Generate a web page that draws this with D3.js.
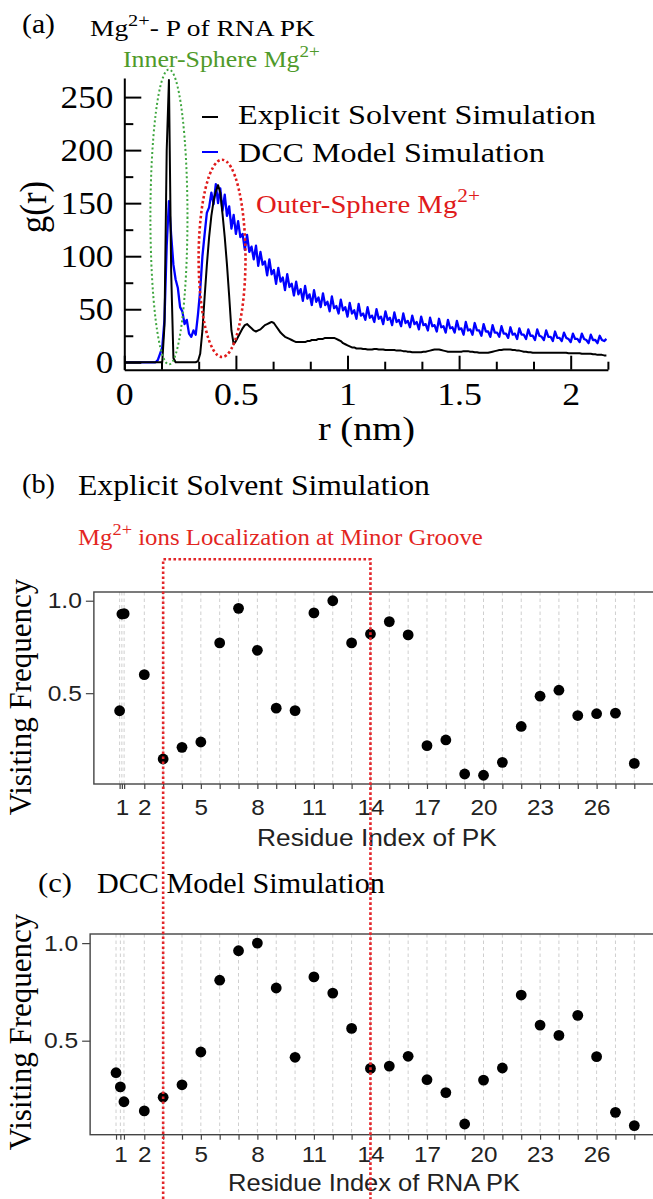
<!DOCTYPE html>
<html>
<head>
<meta charset="utf-8">
<script src="https://cdn.jsdelivr.net/npm/d3@7"></script>
<style>
  html, body { margin: 0; padding: 0; background: #fff; }
  svg { display: block; }
  text { white-space: pre; }
</style>
</head>
<body>
<svg id="chart" width="653" height="1199"></svg>
<script>
// ---------------- DATA ----------------
// Panel (a): radial distribution g(r), Mg2+ - P, sampled every 0.01 nm from r = 0
const rStep = 0.01;
const gExplicit = [
  0,0,0,0,0,0,0,0,0,0,0,0,0,0,0,0,0,
  0,35,200,266,85,4,
  0,0,0,0,0,0,0,0,0,0,
  1,8,30,62,92,118,138,152,161,167,160,140,118,92,62,30,17,
  20,24,28,32,35,36,34,32,30,29,
  30,31,33,35,36,37,38,37,34,31,
  28,26,24,23,22,21,20,19,19,19,
  19,19,20,20,21,21,21,22,22,22,
  23,23,23,23,23,22,21,20,18,17,
  16,15,14,14,13,13,13,12.5,12.5,12,
  12,12,12.5,12.5,12,12,12,11.5,11.5,11.5,
  11.5,11.5,11,11,11,10.5,10.5,10,10,9.5,
  9.5,9.5,9.5,9.5,10,10,10.5,11,11.5,12,
  12,12,11.5,11,10.5,10,10,10,10,10,
  10,10,10.5,10.5,10.5,10,10,9.5,9.5,9,
  9,9,9,9,9.5,10,10.5,11,11.5,11.5,
  12,12,12,12,11.5,11.5,11,11,10.5,10,
  10,9.5,9.5,9,9,9,9,9,9,9,
  9,9,9,9,9,9,9,9,9,8.5,
  8.5,8.5,8.5,8.5,8.5,8,8,8,8,8,
  7.5,7.5,7,7,7,6.5,6.5
];
const gDCC = [
  0,0,0,0,0,0,0,0,0,0,0,0,0,0,0,
  2,8,14,40,110,152,120,92,78,70,52,48,36,40,27,24,30,26,
  45,68,100,121,141,146,160,149,168,150,164,143,158,138,147,126,139,
  121,133,118,121,106,120,104,109,97,110,
  91,104,92,95,82,97,83,87,74,89,
  76,80,68,83,71,74,63,76,64,69,
  58,72,60,64,54,68,57,61,52,65,
  54,57,48,62,51,53,46,59,49,52,
  43,56,46,49,41,55,44,46,40,52,
  42,44,38,50,41,43,36,48,40,42,
  35,47,38,40,34,46,37,39,33,44,
  36,38,31,43,35,36,30,42,34,35,
  29,41,33,34,28,40,32,33,28,39,
  31,32,26,38,30,31,26,37,30,30,
  25,36,29,29,24,35,28,28,24,34,
  27,27,23,33,26,27,22,32,26,26,
  22,31,25,25,21,31,25,24,21,30,
  24,24,20,29,23,23,20,28,23,22,
  19,27,22,22,19,27,22,21,18,26,
  21,21,18,25,21,20,22
];
const seriesNamesA = ["Explicit Solvent Simulation", "DCC Model Simulation"];
const yTicksA = [0, 50, 100, 150, 200, 250];
const yMinorA = [25, 75, 125, 175, 225];
const xTicksA = [0, 0.5, 1, 1.5, 2];
const xMinorA = [0.1667, 0.3333, 0.6667, 0.8333, 1.1667, 1.3333, 1.6667, 1.8333, 2.1667];

// Panels (b) and (c): visiting frequency per residue
const residuePosB = [0.69, 0.81, 0.93, 2, 3, 4, 5, 6, 7, 8, 9, 10, 11, 12, 13, 14, 15, 16, 17, 18, 19, 20, 21, 22, 23, 24, 25, 26, 27, 28];
const visitFreqB  = [0.405, 0.928, 0.93, 0.60, 0.144, 0.207, 0.236, 0.772, 0.959, 0.732, 0.419, 0.406, 0.934, 1.0, 0.772, 0.82, 0.887, 0.815, 0.216, 0.247, 0.063, 0.056, 0.126, 0.32, 0.484, 0.516, 0.379, 0.389, 0.392, 0.12];
const residuePosC = [0.5, 0.73, 0.92, 2, 3, 4, 5, 6, 7, 8, 9, 10, 11, 12, 13, 14, 15, 16, 17, 18, 19, 20, 21, 22, 23, 24, 25, 26, 27, 28];
const visitFreqC  = [0.336, 0.263, 0.187, 0.14, 0.21, 0.274, 0.442, 0.81, 0.961, 1.0, 0.77, 0.415, 0.827, 0.744, 0.563, 0.358, 0.37, 0.42, 0.30, 0.234, 0.073, 0.298, 0.36, 0.734, 0.58, 0.527, 0.63, 0.418, 0.133, 0.065];
const yTicksBC = [0.5, 1.0];
const xTickLabelsB = {"0.81": "1", "2": "2", "5": "5", "8": "8", "11": "11", "14": "14", "17": "17", "20": "20", "23": "23", "26": "26"};
const xTickLabelsC = {"0.73": "1", "2": "2", "5": "5", "8": "8", "11": "11", "14": "14", "17": "17", "20": "20", "23": "23", "26": "26"};
const minorGrooveRange = [3, 14];

// ---------------- DRAW ----------------
const svg = d3.select("#chart");
svg.append("rect").attr("width", 653).attr("height", 1199).attr("fill", "#fff");
const SERIF = "'Liberation Serif', 'Times New Roman', serif";
const SANS = "'Liberation Sans', Arial, sans-serif";

function label(parent, o) {
  const g = parent.append("g");
  const t = g.append("text")
    .attr("font-size", o.size).attr("font-family", o.family)
    .attr("fill", o.fill || "#000").attr("text-anchor", o.anchor || "start");
  let prevSup = false;
  o.parts.forEach(p => {
    const ts = t.append("tspan").text(p.t);
    if (p.sup) { ts.attr("font-size", o.size * 0.74).attr("dy", -o.size * 0.42); prevSup = true; }
    else if (prevSup) { ts.attr("dy", o.size * 0.42); prevSup = false; }
  });
  let s = o.sx || 1;
  if (o.width) s = o.width / t.node().getComputedTextLength();
  g.attr("transform", `translate(${o.x},${o.y}) scale(${s},1)` + (o.rotate ? ` rotate(${o.rotate})` : ""));
  return g;
}
function stretchAxisText(axisG, s) {
  axisG.selectAll("text").each(function () {
    const t = d3.select(this);
    const x = +t.attr("x") || 0;
    t.attr("x", x / s).attr("transform", `scale(${s},1)`);
  });
}

// ===== Panel (a) =====
const xA = d3.scaleLinear().domain([0, 2.1667]).range([124.3, 607.9]);
const yA = d3.scaleLinear().domain([-7, 268]).range([369.7, 78]);
const rOf = i => i * rStep;
const lineA = d3.line().x((d, i) => xA(rOf(i))).y(d => yA(d));

const pa = svg.append("g");
pa.append("path").datum(gDCC).attr("d", lineA).attr("fill", "none")
  .attr("stroke", "#0000ff").attr("stroke-width", 2.3).attr("stroke-linejoin", "round");
pa.append("path").datum(gExplicit).attr("d", lineA).attr("fill", "none")
  .attr("stroke", "#000").attr("stroke-width", 2).attr("stroke-linejoin", "round");

// axes (inward ticks)
const yAxA = pa.append("g").attr("transform", `translate(${xA(0)},0)`)
  .call(d3.axisLeft(yA).tickValues(yTicksA).tickSizeInner(-17).tickSizeOuter(0).tickPadding(11));
yAxA.selectAll("text").attr("font-family", SERIF).attr("font-size", 32).attr("fill", "#000");
yAxA.selectAll("line, path").attr("stroke", "#000").attr("stroke-width", 2);
stretchAxisText(yAxA, 1.1);
const yMinA = pa.append("g").attr("transform", `translate(${xA(0)},0)`)
  .call(d3.axisLeft(yA).tickValues(yMinorA).tickSizeInner(-9).tickSizeOuter(0).tickFormat(""));
yMinA.select(".domain").remove();
yMinA.selectAll("line").attr("stroke", "#000").attr("stroke-width", 2);

const xAxA = pa.append("g").attr("transform", `translate(0,${yA.range()[0]})`)
  .call(d3.axisBottom(xA).tickValues(xTicksA).tickSizeInner(-14).tickSizeOuter(0).tickPadding(13).tickFormat(d3.format("")));
xAxA.selectAll("text").attr("font-family", SERIF).attr("font-size", 32).attr("fill", "#000");
xAxA.selectAll("line, path").attr("stroke", "#000").attr("stroke-width", 2);
stretchAxisText(xAxA, 1.12);
const xMinA = pa.append("g").attr("transform", `translate(0,${yA.range()[0]})`)
  .call(d3.axisBottom(xA).tickValues(xMinorA).tickSizeInner(-8).tickSizeOuter(0).tickFormat(""));
xMinA.select(".domain").remove();
xMinA.selectAll("line").attr("stroke", "#000").attr("stroke-width", 2);

// ellipses (data coordinates)
pa.append("ellipse").attr("cx", xA(0.2)).attr("cy", yA(137))
  .attr("rx", xA(0.2 + 0.083) - xA(0.2)).attr("ry", yA(0) - yA(139))
  .attr("fill", "none").attr("stroke", "#3fa63f").attr("stroke-width", 2).attr("stroke-dasharray", "2,2.5");
pa.append("ellipse").attr("cx", xA(0.438)).attr("cy", yA(98))
  .attr("rx", xA(0.438 + 0.105) - xA(0.438)).attr("ry", yA(0) - yA(93))
  .attr("fill", "none").attr("stroke", "#e01b1b").attr("stroke-width", 2.6).attr("stroke-dasharray", "2.5,2.5");

// legend
[["#000", 117, 124, seriesNamesA[0], 358], ["#0000ff", 152, 162, seriesNamesA[1], 307]].forEach(([c, ly, by, name, w]) => {
  pa.append("line").attr("x1", 202).attr("x2", 218).attr("y1", ly).attr("y2", ly).attr("stroke", c).attr("stroke-width", 2);
  label(pa, {x: 238, y: by, parts: [{t: name}], size: 28, family: SERIF, width: w});
});

// texts
label(svg, {x: 22, y: 33, parts: [{t: "(a)"}], size: 27, family: SERIF, width: 33});
label(svg, {x: 90, y: 36, parts: [{t: "Mg"}, {t: "2+", sup: true}, {t: "- P of RNA PK"}], size: 24, family: SERIF, width: 225});
label(svg, {x: 123, y: 67, parts: [{t: "Inner-Sphere Mg"}, {t: "2+", sup: true}], size: 23, family: SERIF, fill: "#4f9a2a", width: 197});
label(svg, {x: 256, y: 213, parts: [{t: "Outer-Sphere Mg"}, {t: "2+", sup: true}], size: 26, family: SERIF, fill: "#e01b1b", width: 224});
label(svg, {x: 318, y: 440, parts: [{t: "r (nm)"}], size: 33, family: SERIF, width: 97});
label(svg, {x: 46, y: 207, parts: [{t: "g(r)"}], size: 35, family: SERIF, anchor: "middle", sx: 1.1, rotate: -90});

// ===== Panels (b) and (c) =====
function dotPanel(o) {
  const lo = d3.min(o.pos), hi = d3.max(o.pos);
  const vlo = d3.min(o.vals), vhi = d3.max(o.vals);
  const mx = (hi - lo) * 0.05, my = (vhi - vlo) * 0.05;
  const x = d3.scaleLinear().domain([2, 28]).range([144.3, 634.3]);
  const y = d3.scaleLinear().domain([vlo - my, vhi + my]).range([o.bottom, o.top]);
  const g = svg.append("g");
  const x0 = x(lo - mx), x1 = x(hi + mx);
  // grid
  g.selectAll(".grid").data(o.pos).join("line")
    .attr("x1", d => x(d)).attr("x2", d => x(d)).attr("y1", o.top).attr("y2", o.bottom)
    .attr("stroke", "#cfcfcf").attr("stroke-width", 1).attr("stroke-dasharray", "3.5,3");
  // frame
  g.append("rect").attr("x", x0).attr("y", o.top).attr("width", x1 - x0).attr("height", o.bottom - o.top)
    .attr("fill", "none").attr("stroke", "#444").attr("stroke-width", 1.4);
  // axes
  const ax = g.append("g").attr("transform", `translate(0,${o.bottom})`)
    .call(d3.axisBottom(x).tickValues(o.pos).tickSizeInner(5).tickSizeOuter(0).tickPadding(o.xpad)
      .tickFormat(d => o.labels[String(d)] || ""));
  ax.select(".domain").remove();
  ax.selectAll("line").attr("stroke", "#444").attr("stroke-width", 1.2);
  ax.selectAll("text").attr("font-family", SANS).attr("font-size", 22).attr("fill", "#222");
  stretchAxisText(ax, 1.1);
  const ay = g.append("g").attr("transform", `translate(${x0},0)`)
    .call(d3.axisLeft(y).tickValues(yTicksBC).tickSizeInner(8).tickSizeOuter(0).tickPadding(4).tickFormat(d3.format(".1f")));
  ay.select(".domain").remove();
  ay.selectAll("line").attr("stroke", "#444").attr("stroke-width", 1.2);
  ay.selectAll("text").attr("font-family", SANS).attr("font-size", 22).attr("fill", "#222");
  stretchAxisText(ay, 1.12);
  // points
  g.selectAll(".pt").data(o.pos.map((p, i) => [p, o.vals[i]])).join("circle")
    .attr("cx", d => x(d[0])).attr("cy", d => y(d[1])).attr("r", 5.4).attr("fill", "#000");
  return x;
}
const xB = dotPanel({pos: residuePosB, vals: visitFreqB, top: 592, bottom: 784, labels: xTickLabelsB, xpad: 10});
const xC = dotPanel({pos: residuePosC, vals: visitFreqC, top: 934, bottom: 1134.7, labels: xTickLabelsC, xpad: 7});

label(svg, {x: 22, y: 493, parts: [{t: "(b)"}], size: 27, family: SERIF, width: 33});
label(svg, {x: 78, y: 495, parts: [{t: "Explicit Solvent Simulation"}], size: 30, family: SERIF, width: 352});
label(svg, {x: 78, y: 545, parts: [{t: "Mg"}, {t: "2+", sup: true}, {t: " ions Localization at Minor Groove"}], size: 23, family: SERIF, fill: "#e3261f", width: 405});
label(svg, {x: 31, y: 697, parts: [{t: "Visiting Frequency"}], size: 31, family: SERIF, anchor: "middle", rotate: -90});
label(svg, {x: 377, y: 846, parts: [{t: "Residue Index of PK"}], size: 24, family: SANS, fill: "#222", anchor: "middle", width: 240});

label(svg, {x: 38, y: 892, parts: [{t: "(c)"}], size: 27, family: SERIF, width: 34});
label(svg, {x: 97, y: 893, parts: [{t: "DCC Model Simulation"}], size: 30, family: SERIF, width: 288});
label(svg, {x: 31, y: 1032, parts: [{t: "Visiting Frequency"}], size: 31, family: SERIF, anchor: "middle", rotate: -90});
label(svg, {x: 374, y: 1191, parts: [{t: "Residue Index of RNA PK"}], size: 24, family: SANS, fill: "#222", anchor: "middle", width: 292});

// red dotted bracket for minor groove residues
svg.append("path")
  .attr("d", `M${xB(minorGrooveRange[0])},1199 V559.3 H${xB(minorGrooveRange[1])} V1199`)
  .attr("fill", "none").attr("stroke", "#e3262a").attr("stroke-width", 2.6).attr("stroke-dasharray", "2.6,2.4");
</script>
</body>
</html>
